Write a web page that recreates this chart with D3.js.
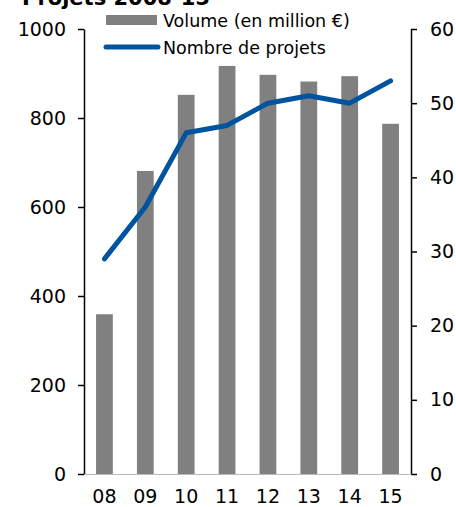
<!DOCTYPE html>
<html>
<head>
  <meta charset="utf-8">
  <title>Projets 2008-15</title>
  <style>
    body { margin: 0; background: #fff; }
    text { font-family: "DejaVu Sans", sans-serif; fill: #000; }
  </style>
</head>
<body>
  <svg width="456" height="507"></svg>
  <script src="https://d3js.org/d3.v7.min.js"></script>
  <script>
  // data
  var years = ['08', '09', '10', '11', '12', '13', '14', '15'];
  var volume = [359, 681, 852, 917, 897, 882, 894, 787];   // en million €
  var projets = [29, 36, 46, 47, 50, 51, 50, 53];
  var leftTicks = [0, 200, 400, 600, 800, 1000];
  var rightTicks = [0, 10, 20, 30, 40, 50, 60];

  var svg = d3.select('svg');
  var plotLeft = 84, plotRight = 411, plotTop = 29, plotBottom = 474;

  var x = d3.scaleBand().domain(years).range([plotLeft, plotRight]).paddingInner(0.59).paddingOuter(0.295);
  var xc = d3.scalePoint().domain(years).range([plotLeft, plotRight]).padding(0.5);
  var yL = d3.scaleLinear().domain([0, 1000]).range([plotBottom, plotTop]);
  var yR = d3.scaleLinear().domain([0, 60]).range([plotBottom, plotTop]);

  // title (cut off at the top, as in the source)
  svg.append('text')
    .attr('x', 22).attr('y', 5)
    .style('font-size', '21px').style('font-weight', 'bold')
    .text('Projets 2008-15');

  // bars
  svg.selectAll('.bar')
    .data(years)
    .enter()
    .append('rect')
    .attr('class', 'bar')
    .attr('x', function(d) { return x(d); })
    .attr('width', x.bandwidth())
    .attr('y', function(d, i) { return yL(volume[i]); })
    .attr('height', function(d, i) { return plotBottom - yL(volume[i]); })
    .attr('fill', '#808080');

  // line
  var line = d3.line()
    .x(function(d, i) { return xc(years[i]); })
    .y(function(d) { return yR(d); });

  svg.append('path')
    .datum(projets)
    .attr('d', line)
    .attr('fill', 'none')
    .attr('stroke', '#00539F')
    .attr('stroke-width', 5)
    .attr('stroke-linejoin', 'round')
    .attr('stroke-linecap', 'round');

  // axes
  var axL = svg.append('g')
    .attr('transform', 'translate(' + plotLeft + ',0)')
    .call(d3.axisLeft(yL).tickValues(leftTicks).tickFormat(d3.format('d'))
      .tickSize(6).tickSizeOuter(0).tickPadding(12));
  var axR = svg.append('g')
    .attr('transform', 'translate(' + plotRight + ',0)')
    .call(d3.axisRight(yR).tickValues(rightTicks).tickSize(6).tickSizeOuter(0).tickPadding(13));
  var axX = svg.append('g')
    .attr('transform', 'translate(0,' + plotBottom + ')')
    .call(d3.axisBottom(x).tickSize(0).tickSizeOuter(0).tickPadding(16));

  [axL, axR, axX].forEach(function(a) {
    a.select('.domain').attr('stroke', '#000').attr('stroke-width', 1.5);
    a.selectAll('.tick line').attr('stroke', '#000').attr('stroke-width', 1.5);
    a.selectAll('text').style('font-size', '19px').attr('font-family', null);
  });
  axX.select('.domain').attr('stroke', '#bbb').attr('stroke-width', 1);

  // legend
  var lg = svg.append('g');
  lg.append('rect').attr('x', 106).attr('y', 15).attr('width', 51).attr('height', 10).attr('fill', '#808080');
  lg.append('text').attr('x', 163).attr('y', 27).style('font-size', '17.5px').text('Volume (en million €)');
  lg.append('line').attr('x1', 106).attr('x2', 158).attr('y1', 47).attr('y2', 47)
    .attr('stroke', '#00539F').attr('stroke-width', 5).attr('stroke-linecap', 'round');
  lg.append('text').attr('x', 163).attr('y', 54).style('font-size', '17.5px').text('Nombre de projets');
  </script>
</body>
</html>
